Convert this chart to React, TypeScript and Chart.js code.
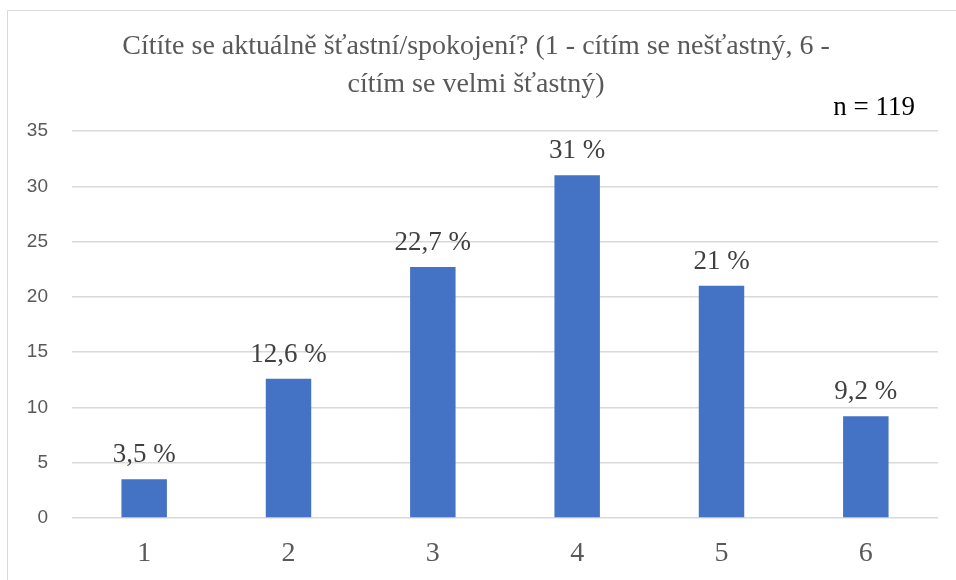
import React, { useEffect, useRef } from "react";
import { Chart, registerables } from "chart.js";

Chart.register(...registerables);

const categories = ["1", "2", "3", "4", "5", "6"];
const values = [3.5, 12.6, 22.7, 31, 21, 9.2];
const valueLabels = ["3,5 %", "12,6 %", "22,7 %", "31 %", "21 %", "9,2 %"];
const titleLines = [
  "Cítíte se aktuálně šťastní/spokojení? (1 - cítím se nešťastný, 6 -",
  "cítím se velmi šťastný)",
];
const noteText = "n = 119";
const yTicks = { min: 0, max: 35, step: 5 };

const SERIF = '"Liberation Serif", "Times New Roman", serif';

const decorPlugin = {
  id: "decor",
  beforeDraw(chart: any) {
    const ctx = chart.ctx;
    ctx.save();
    ctx.fillStyle = "#ffffff";
    ctx.fillRect(0, 0, chart.width, chart.height);
    ctx.strokeStyle = "#d9d9d9";
    ctx.lineWidth = 1;
    ctx.beginPath();
    ctx.moveTo(7.5, chart.height);
    ctx.lineTo(7.5, 10.5);
    ctx.lineTo(chart.width, 10.5);
    ctx.stroke();
    ctx.restore();
  },
  afterDraw(chart: any) {
    const ctx = chart.ctx;
    ctx.save();
    ctx.font = `28px ${SERIF}`;
    ctx.fillStyle = "#595959";
    ctx.textAlign = "center";
    ctx.textBaseline = "middle";
    ctx.fillText(titleLines[0], 476, 47);
    ctx.fillText(titleLines[1], 476, 85);
    ctx.fillStyle = "#000000";
    ctx.textAlign = "right";
    ctx.font = `27px ${SERIF}`;
    ctx.fillText(noteText, 915, 108);

    const meta = chart.getDatasetMeta(0);
    ctx.font = `27px ${SERIF}`;
    ctx.fillStyle = "#404040";
    ctx.textAlign = "center";
    ctx.textBaseline = "alphabetic";
    meta.data.forEach((bar: any, i: number) => {
      ctx.fillText(valueLabels[i], bar.x, bar.y - 17);
    });
    ctx.restore();
  },
};

export default function App() {
  const ref = useRef<HTMLCanvasElement>(null);
  useEffect(() => {
    if (!ref.current) return;
    const chart = new Chart(ref.current, {
      type: "bar",
      data: {
        labels: categories,
        datasets: [
          {
            data: values,
            backgroundColor: "#4472C4",
            borderWidth: 0,
            categoryPercentage: 1,
            barPercentage: 0.315,
          },
        ],
      },
      options: {
        animation: false,
        responsive: false,
        layout: { padding: { left: 0, right: 18, top: 131, bottom: 0 } },
        plugins: {
          legend: { display: false },
          title: { display: false },
          tooltip: { enabled: false },
        },
        scales: {
          x: {
            grid: { display: false, drawTicks: false },
            border: { display: false },
            ticks: {
              padding: 19,
              color: "#595959",
              font: { family: SERIF, size: 28 },
            },
            afterFit: (s: any) => {
              s.height = 62;
            },
          },
          y: {
            min: yTicks.min,
            max: yTicks.max,
            grid: { color: "#d9d9d9", lineWidth: 1.5, drawTicks: false },
            border: { display: false },
            ticks: {
              stepSize: yTicks.step,
              padding: 24,
              color: "#595959",
              font: { family: '"Liberation Sans", Arial, sans-serif', size: 19 },
            },
            afterFit: (s: any) => {
              s.width = 72;
            },
          },
        },
      },
      plugins: [decorPlugin],
    });
    return () => chart.destroy();
  }, []);
  return (
    <div style={{ position: "fixed", left: 0, top: 0, width: 956, height: 580 }}>
      <canvas ref={ref} width={956} height={580} style={{ display: "block" }} />
    </div>
  );
}
